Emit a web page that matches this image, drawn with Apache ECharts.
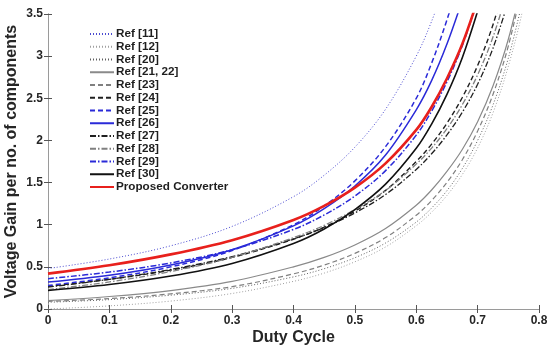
<!DOCTYPE html>
<html>
<head>
<meta charset="utf-8">
<style>
  html, body { margin: 0; padding: 0; background: #fff; }
  #chart { width: 548px; height: 347px; }
</style>
<script src="https://cdn.jsdelivr.net/npm/echarts@6/dist/echarts.min.js"></script>
</head>
<body>
<div id="chart"></div>
<script>
// Duty cycle sample points (x axis)
const dutyCycle = [0, 0.1, 0.2, 0.3, 0.4, 0.45, 0.5, 0.55, 0.6, 0.625, 0.65, 0.675, 0.7, 0.725, 0.75, 0.775, 0.8];

// Voltage gain per number of components, one list per converter
const ref11   = [0.48, 0.593, 0.75, 0.98, 1.333, 1.587, 1.92, 2.37, 3.0, 3.413, 3.918];
const ref12   = [0, 0.037, 0.094, 0.184, 0.328, 0.426, 0.56, 0.736, 0.988, 1.148, 1.347, 1.595, 1.911, 2.327, 2.88, 3.604, 4.625];
const ref20   = [0.08, 0.111, 0.164, 0.245, 0.381, 0.478, 0.608, 0.783, 1.031, 1.198, 1.404, 1.666, 2.0, 2.42, 2.976, 3.713];
const ref2122 = [0.10, 0.148, 0.219, 0.327, 0.50, 0.612, 0.76, 0.955, 1.231, 1.412, 1.633, 1.893, 2.222, 2.645, 3.2, 3.95];
const ref23   = [0.09, 0.123, 0.18, 0.265, 0.417, 0.521, 0.66, 0.847, 1.113, 1.287, 1.502, 1.77, 2.111, 2.545, 3.12, 3.9];
const ref24   = [0.27, 0.352, 0.461, 0.612, 0.828, 0.972, 1.16, 1.407, 1.75, 1.956, 2.204, 2.509, 2.889, 3.372, 4.0];
const ref25   = [0.28, 0.370, 0.5, 0.694, 1.0, 1.223, 1.52, 1.926, 2.5, 2.916, 3.43, 4.02];
const ref26   = [0.32, 0.401, 0.523, 0.704, 0.986, 1.19, 1.46, 1.827, 2.363, 2.709, 3.143, 3.664];
const ref27   = [0.26, 0.352, 0.469, 0.622, 0.833, 0.967, 1.14, 1.358, 1.656, 1.842, 2.065, 2.334, 2.667, 3.094, 3.648];
const ref28   = [0.23, 0.321, 0.445, 0.612, 0.847, 0.992, 1.18, 1.407, 1.719, 1.909, 2.139, 2.424, 2.778, 3.226, 3.808];
const ref29   = [0.36, 0.438, 0.547, 0.704, 0.944, 1.116, 1.34, 1.642, 2.063, 2.347, 2.694, 3.124, 3.667];
const ref30   = [0.22, 0.29, 0.391, 0.541, 0.778, 0.95, 1.18, 1.481, 1.906, 2.194, 2.547, 2.982, 3.533];
const proposed = [0.42, 0.519, 0.648, 0.816, 1.056, 1.223, 1.44, 1.728, 2.125, 2.397, 2.735, 3.143, 3.667];

const names = ['Ref [11]', 'Ref [12]', 'Ref [20]', 'Ref [21, 22]', 'Ref [23]', 'Ref [24]', 'Ref [25]',
               'Ref [26]', 'Ref [27]', 'Ref [28]', 'Ref [29]', 'Ref [30]', 'Proposed Converter'];
const values = [ref11, ref12, ref20, ref2122, ref23, ref24, ref25, ref26, ref27, ref28, ref29, ref30, proposed];

const DOT = [1, 2];
const DASH = [5, 3];
const DASHDOT = [6, 2, 1.5, 2];
const styles = [
  { color: '#4a4ad0', width: 1,   type: DOT },
  { color: '#a0a0a0', width: 1,   type: DOT },
  { color: '#606060', width: 1,   type: DOT },
  { color: '#8a8a8a', width: 1.2, type: 'solid' },
  { color: '#808080', width: 1.2, type: DASH },
  { color: '#202020', width: 1.4, type: DASH },
  { color: '#2a2ad8', width: 1.5, type: DASH },
  { color: '#2a2ad8', width: 1.5, type: 'solid' },
  { color: '#202020', width: 1.3, type: DASHDOT },
  { color: '#808080', width: 1.3, type: DASHDOT },
  { color: '#2a2ad8', width: 1.5, type: DASHDOT },
  { color: '#111111', width: 1.6, type: 'solid' },
  { color: '#e8201c', width: 2.6, type: 'solid' }
];

function pairs(ys) {
  return ys.map((y, i) => [dutyCycle[i], y]);
}

const series = names.map((name, i) => ({
  name: name,
  type: 'line',
  xAxisIndex: 0,
  yAxisIndex: 0,
  data: pairs(values[i]),
  smooth: 0.35,
  symbol: 'none',
  clip: true,
  lineStyle: styles[i],
  itemStyle: { color: styles[i].color },
  z: i === names.length - 1 ? 5 : 2
}));

const FONT = 'Liberation Sans, Arial, sans-serif';
const labelFont = { fontFamily: FONT, fontWeight: 'bold', fontSize: 12, color: '#262626' };
const gray = '#9a9a9a';

const chart = echarts.init(document.getElementById('chart'), null, { renderer: 'canvas' });
chart.setOption({
  animation: false,
  backgroundColor: '#fff',
  grid: { left: 48, right: 9, top: 14, bottom: 38, containLabel: false, outerBoundsMode: 'none' },
  legend: {
    orient: 'vertical',
    left: 84,
    top: 23,
    itemWidth: 24,
    itemHeight: 12,
    itemGap: 0.75,
    data: names,
    itemStyle: { opacity: 0, borderWidth: 0 },
    textStyle: { fontFamily: FONT, fontWeight: 'bold', fontSize: 11.7, color: '#1e1e1e', padding: [0, 0, 0, -3], lineHeight: 12 }
  },
  xAxis: [
    {
      type: 'value', min: 0, max: 0.8, interval: 0.1,
      name: 'Duty Cycle', nameLocation: 'middle', nameGap: 21, nameMoveOverlap: false,
      nameTextStyle: { fontFamily: FONT, fontWeight: 'bold', fontSize: 16, color: '#262626' },
      axisLine: { lineStyle: { color: gray, width: 1 } },
      axisTick: { inside: true, length: 4, lineStyle: { color: '#555' } },
      axisLabel: Object.assign({ margin: 6 }, labelFont),
      splitLine: { show: false }
    },
    {
      type: 'value', min: 0, max: 0.8, interval: 0.1, position: 'top',
      axisLine: { lineStyle: { color: gray, width: 1 } },
      axisTick: { inside: true, length: 4, lineStyle: { color: '#555' } },
      axisLabel: { show: false },
      splitLine: { show: false }
    }
  ],
  yAxis: [
    {
      type: 'value', min: 0, max: 3.5, interval: 0.5,
      name: 'Voltage Gain per no. of components', nameLocation: 'middle', nameGap: 28, nameMoveOverlap: false,
      nameTextStyle: { fontFamily: FONT, fontWeight: 'bold', fontSize: 16, color: '#262626' },
      axisLine: { show: true, lineStyle: { color: gray, width: 1 } },
      axisTick: { show: true, inside: true, length: 4, lineStyle: { color: '#555' } },
      axisLabel: Object.assign({ margin: 5 }, labelFont),
      splitLine: { show: false }
    },
    {
      type: 'value', min: 0, max: 3.5, interval: 0.5, position: 'right',
      axisLine: { show: true, lineStyle: { color: gray, width: 1 } },
      axisTick: { show: true, inside: true, length: 4, lineStyle: { color: '#555' } },
      axisLabel: { show: false },
      splitLine: { show: false }
    }
  ],
  series: series
});
</script>
</body>
</html>
